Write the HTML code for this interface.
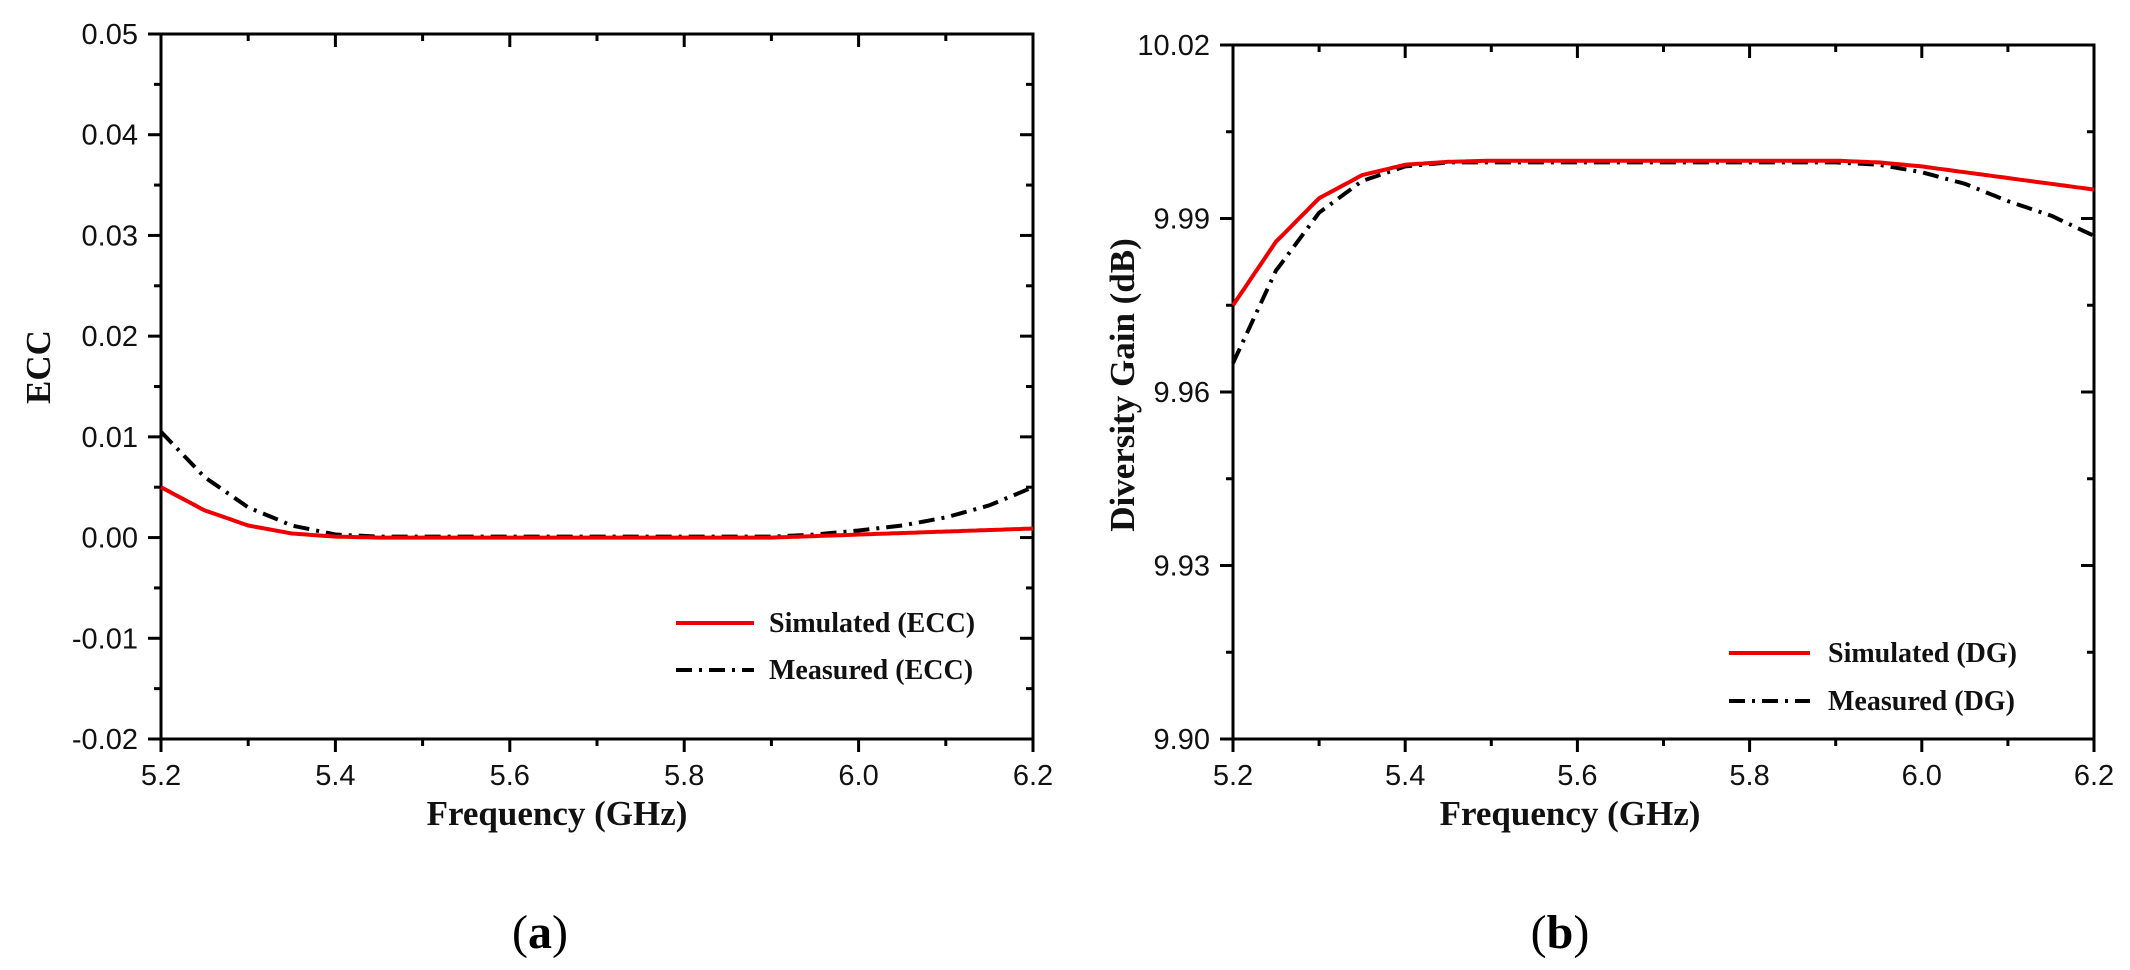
<!DOCTYPE html>
<html><head><meta charset="utf-8"><style>
html,body{margin:0;padding:0;background:#fff;}
svg{display:block;}
.t{font-family:"Liberation Sans",Arial,sans-serif;font-size:29px;fill:#111;}
.ti{font-family:"Liberation Serif",serif;font-weight:bold;font-size:35px;fill:#111;}
.lg{font-family:"Liberation Serif",serif;font-weight:bold;font-size:28px;fill:#111;}
.cap{font-family:"Liberation Serif",serif;font-size:48px;fill:#000;}
</style></head><body>
<svg id="s" width="2130" height="970" xmlns="http://www.w3.org/2000/svg"></svg>
<script>
const s=document.getElementById('s');let h='';
function plot(o){
 const {x0,x1,y0,y1,ymin,ymax,ystep,yminor,fmt}=o;
 const X=v=>x0+(v-5.2)/1.0*(x1-x0), Y=v=>y1-(v-ymin)/(ymax-ymin)*(y1-y0);
 h+=`<rect x="${x0}" y="${y0}" width="${x1-x0}" height="${y1-y0}" fill="none" stroke="#000" stroke-width="3"/>`;
 for(let i=0;i<=10;i++){const v=5.2+i*0.1,x=X(v),maj=i%2==0;
  h+=`<line x1="${x}" y1="${y1}" x2="${x}" y2="${y1+(maj?13:7)}" stroke="#000" stroke-width="3"/>`;
  h+=`<line x1="${x}" y1="${y0}" x2="${x}" y2="${y0+(maj?13:7)}" stroke="#000" stroke-width="3"/>`;
  if(maj)h+=`<text class="t" x="${x}" y="785" text-anchor="middle">${v.toFixed(1)}</text>`;}
 const n=Math.round((ymax-ymin)/yminor);
 for(let i=0;i<=n;i++){const v=ymin+i*yminor,y=Y(v),maj=i%Math.round(ystep/yminor)==0;
  h+=`<line x1="${x0}" y1="${y}" x2="${x0-(maj?13:7)}" y2="${y}" stroke="#000" stroke-width="3"/>`;
  h+=`<line x1="${x1}" y1="${y}" x2="${x1-(maj?13:7)}" y2="${y}" stroke="#000" stroke-width="3"/>`;
  if(maj)h+=`<text class="t" x="${x0-23}" y="${y+10}" text-anchor="end">${fmt(v)}</text>`;}
 const path=(pts)=>{let d='';const N=200;for(let i=0;i<=N;i++){const f=5.2+i/N;let k=0;while(k<pts.length-2&&f>pts[k+1][0])k++;
   const [a,b]=[pts[k],pts[k+1]];const t=(f-a[0])/(b[0]-a[0]);const v=a[1]+(b[1]-a[1])*t;d+=(i?'L':'M')+X(f).toFixed(1)+','+Y(v).toFixed(1);}return d;};
 h+=`<path d="${path(o.meas)}" fill="none" stroke="#000" stroke-width="4" stroke-dasharray="16,7,3,7" stroke-linejoin="round"/>`;
 h+=`<path d="${path(o.sim)}" fill="none" stroke="#e00" stroke-width="4" stroke-linejoin="round"/>`;
}
plot({x0:161,x1:1033,y0:34,y1:739,ymin:-0.02,ymax:0.05,ystep:0.01,yminor:0.005,fmt:v=>v.toFixed(2),
 sim:[[5.2,0.005],[5.25,0.0027],[5.3,0.0012],[5.35,0.0004],[5.4,0.0001],[5.45,0],[5.9,0],[6.0,0.0003],[6.1,0.0006],[6.2,0.0009]],
 meas:[[5.2,0.0105],[5.25,0.006],[5.3,0.003],[5.35,0.0012],[5.4,0.0003],[5.45,0.0001],[5.9,0.0001],[5.95,0.0003],[6.0,0.0007],[6.05,0.0012],[6.1,0.002],[6.15,0.0032],[6.2,0.005]]});
plot({x0:1233,x1:2094,y0:45,y1:739,ymin:9.90,ymax:10.02,ystep:0.03,yminor:0.015,fmt:v=>v.toFixed(2),
 sim:[[5.2,9.975],[5.25,9.986],[5.3,9.9935],[5.35,9.9975],[5.4,9.9993],[5.45,9.9998],[5.5,10.0],[5.9,10.0],[5.95,9.9997],[6.0,9.999],[6.1,9.997],[6.2,9.995]],
 meas:[[5.2,9.965],[5.25,9.981],[5.3,9.991],[5.35,9.9965],[5.4,9.999],[5.45,9.9997],[5.9,9.9997],[5.95,9.9993],[6.0,9.998],[6.05,9.996],[6.1,9.993],[6.15,9.9905],[6.2,9.987]]});
h+=`<text class="ti" x="557" y="825" text-anchor="middle">Frequency (GHz)</text>`;
h+=`<text class="ti" x="1570" y="825" text-anchor="middle">Frequency (GHz)</text>`;
h+=`<text class="ti" transform="translate(50,367) rotate(-90)" text-anchor="middle">ECC</text>`;
h+=`<text class="ti" transform="translate(1134,385) rotate(-90)" text-anchor="middle">Diversity Gain (dB)</text>`;
h+=`<line x1="676" y1="623" x2="754" y2="623" stroke="#e00" stroke-width="4"/><text class="lg" x="769" y="632">Simulated (ECC)</text>`;
h+=`<line x1="676" y1="670" x2="754" y2="670" stroke="#000" stroke-width="4" stroke-dasharray="16,7,3,7"/><text class="lg" x="769" y="679">Measured (ECC)</text>`;
h+=`<line x1="1729" y1="653" x2="1810" y2="653" stroke="#e00" stroke-width="4"/><text class="lg" x="1828" y="662">Simulated (DG)</text>`;
h+=`<line x1="1729" y1="701" x2="1810" y2="701" stroke="#000" stroke-width="4" stroke-dasharray="16,7,3,7"/><text class="lg" x="1828" y="710">Measured (DG)</text>`;
h+=`<text class="cap" x="540" y="948" text-anchor="middle">(<tspan font-weight="bold">a</tspan>)</text>`;
h+=`<text class="cap" x="1560" y="948" text-anchor="middle">(<tspan font-weight="bold">b</tspan>)</text>`;
s.innerHTML=h;
</script>
</body></html>
